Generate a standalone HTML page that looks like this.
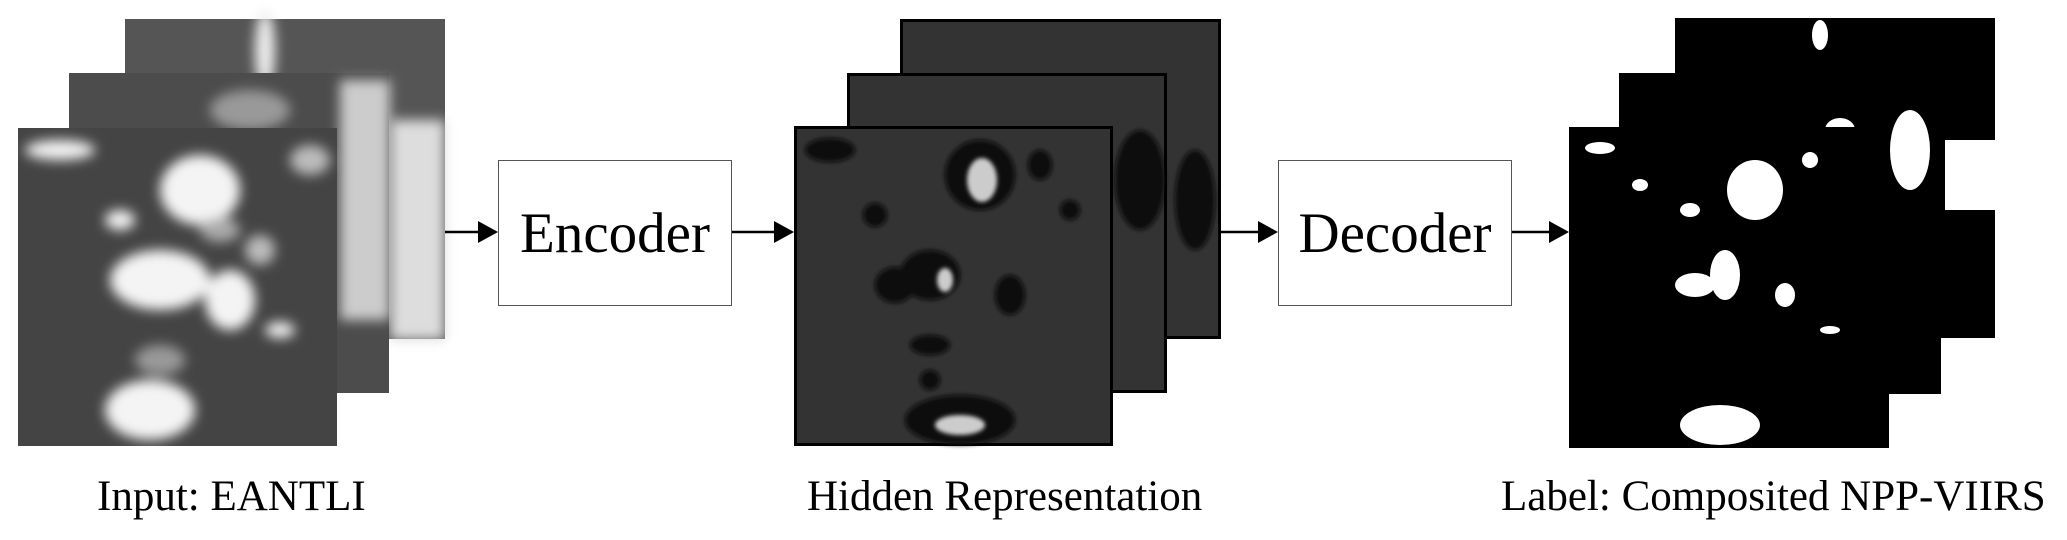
<!DOCTYPE html>
<html><head><meta charset="utf-8"><style>
body{margin:0;width:2067px;height:540px;background:#fff;position:relative;overflow:hidden;font-family:"Liberation Serif",serif}
.a{position:absolute}
.box{position:absolute;border:1.5px solid #555;background:#fff;box-sizing:border-box;display:flex;align-items:center;justify-content:center;font-size:57px;color:#000}
.lbl{position:absolute;font-size:43px;white-space:nowrap;color:#000}
</style></head><body>
<svg class="a" style="left:0;top:0" width="2067" height="540">
<defs>
<filter id="b"><feGaussianBlur stdDeviation="6"/></filter>
<filter id="b2"><feGaussianBlur stdDeviation="2"/></filter>
</defs>
<!-- input stack -->
<rect x="125" y="19" width="320" height="320" fill="#555"/>
<g filter="url(#b)"><rect x="390" y="120" width="55" height="220" fill="#ddd"/><ellipse cx="265" cy="50" rx="10" ry="40" fill="#eee"/></g>
<rect x="69" y="73" width="320" height="320" fill="#4c4c4c"/>
<g filter="url(#b)"><rect x="340" y="80" width="50" height="240" fill="#ccc"/><ellipse cx="250" cy="110" rx="40" ry="20" fill="#999"/></g>
<rect x="18" y="128" width="319" height="318" fill="#444"/>
<g filter="url(#b)" fill="#f4f4f4">
<ellipse cx="200" cy="190" rx="40" ry="35"/><ellipse cx="60" cy="150" rx="35" ry="10"/>
<ellipse cx="160" cy="280" rx="50" ry="30"/><ellipse cx="230" cy="300" rx="25" ry="30"/>
<ellipse cx="150" cy="410" rx="45" ry="30"/><ellipse cx="280" cy="330" rx="15" ry="8"/>
<ellipse cx="120" cy="220" rx="15" ry="10"/><ellipse cx="310" cy="160" rx="20" ry="15" fill="#bbb"/>
<ellipse cx="220" cy="230" rx="20" ry="12" fill="#aaa"/><ellipse cx="260" cy="250" rx="15" ry="15" fill="#bbb"/>
<ellipse cx="160" cy="360" rx="25" ry="15" fill="#999"/>
</g>
<!-- hidden stack -->
<rect x="901.5" y="20.5" width="318" height="317" fill="#333" stroke="#000" stroke-width="3"/>
<rect x="848.5" y="74.5" width="317" height="317" fill="#333" stroke="#000" stroke-width="3"/>
<g filter="url(#b2)" fill="#111"><ellipse cx="1140" cy="180" rx="25" ry="50"/><ellipse cx="1195" cy="200" rx="20" ry="50"/></g>
<rect x="795.5" y="127.5" width="316" height="317" fill="#333" stroke="#000" stroke-width="3"/>
<g filter="url(#b2)" fill="#080808">
<ellipse cx="980" cy="175" rx="35" ry="35"/><ellipse cx="830" cy="150" rx="25" ry="12"/>
<ellipse cx="930" cy="275" rx="30" ry="25"/><ellipse cx="895" cy="285" rx="20" ry="18"/>
<ellipse cx="1010" cy="295" rx="15" ry="20"/><ellipse cx="960" cy="420" rx="55" ry="25"/>
<ellipse cx="930" cy="345" rx="20" ry="10"/><ellipse cx="875" cy="215" rx="12" ry="12"/>
<ellipse cx="1040" cy="165" rx="12" ry="15"/><ellipse cx="1070" cy="210" rx="10" ry="10"/>
<ellipse cx="930" cy="380" rx="10" ry="10"/>
</g>
<g filter="url(#b2)" fill="#ccc"><ellipse cx="982" cy="180" rx="15" ry="22"/><ellipse cx="945" cy="280" rx="8" ry="12"/><ellipse cx="960" cy="425" rx="25" ry="10"/></g>
<!-- label stack -->
<rect x="1675" y="18" width="320" height="320" fill="#000"/>
<g fill="#fff"><rect x="1945" y="140" width="50" height="70"/><ellipse cx="1820" cy="35" rx="8" ry="15"/></g>
<rect x="1619" y="73" width="322" height="321" fill="#000"/>
<g fill="#fff"><ellipse cx="1910" cy="150" rx="20" ry="40"/><ellipse cx="1840" cy="130" rx="15" ry="12"/></g>
<rect x="1569" y="127" width="320" height="321" fill="#000"/>
<g fill="#fff">
<ellipse cx="1755" cy="190" rx="28" ry="30"/><ellipse cx="1600" cy="148" rx="15" ry="6"/>
<ellipse cx="1725" cy="275" rx="15" ry="25"/><ellipse cx="1695" cy="285" rx="20" ry="12"/>
<ellipse cx="1785" cy="295" rx="10" ry="12"/><ellipse cx="1720" cy="425" rx="40" ry="20"/>
<ellipse cx="1690" cy="210" rx="10" ry="7"/><ellipse cx="1640" cy="185" rx="8" ry="6"/>
<ellipse cx="1810" cy="160" rx="8" ry="8"/><ellipse cx="1830" cy="330" rx="10" ry="4"/>
</g>
<!-- arrows -->
<g stroke="#000" stroke-width="2.5"><line x1="445" y1="232" x2="485" y2="232"/><line x1="732" y1="232" x2="782" y2="232"/><line x1="1220" y1="232" x2="1266" y2="232"/><line x1="1512" y1="232" x2="1557" y2="232"/></g>
<g fill="#000"><polygon points="498,232 478,221 478,243"/><polygon points="794,232 774,221 774,243"/><polygon points="1278,232 1258,221 1258,243"/><polygon points="1569,232 1549,221 1549,243"/></g>
</svg>
<div class="box" style="left:498px;top:160px;width:234px;height:146px">Encoder</div>
<div class="box" style="left:1278px;top:160px;width:234px;height:146px">Decoder</div>
<div class="lbl" style="left:97px;top:472px">Input: EANTLI</div>
<div class="lbl" style="left:807px;top:472px">Hidden Representation</div>
<div class="lbl" style="left:1501px;top:472px">Label: Composited NPP-VIIRS</div>
</body></html>
